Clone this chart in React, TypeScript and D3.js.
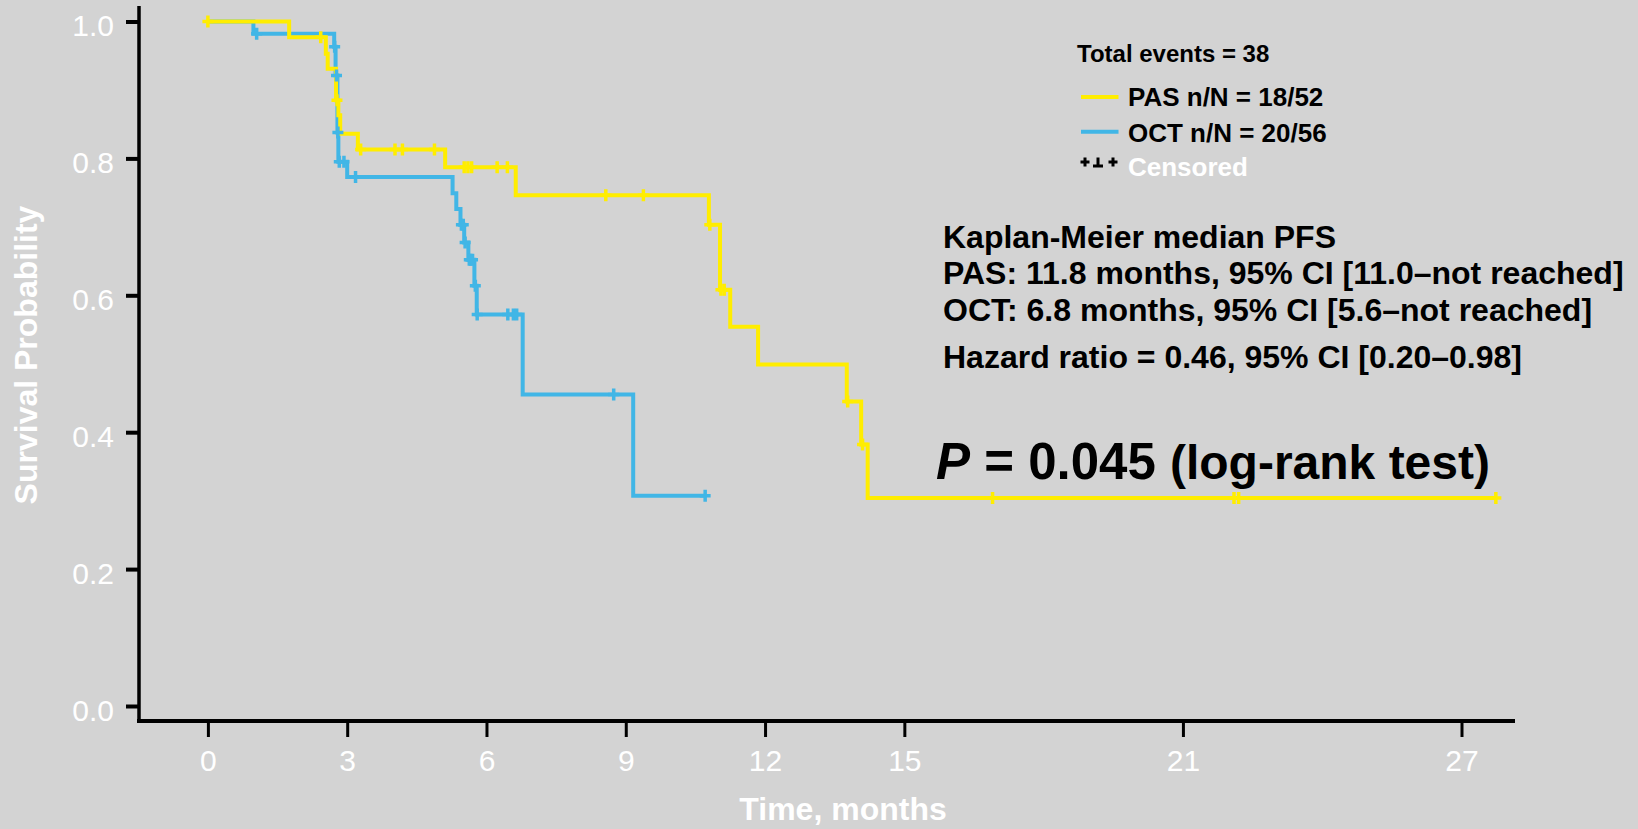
import * as d3 from "d3";
import { useEffect, useRef } from "react";

// axis ticks
const xTicks = [0, 3, 6, 9, 12, 15, 21, 27];
const yTicks = [0, 0.2, 0.4, 0.6, 0.8, 1.0];

// PAS arm: event times (months) and survival after each step
const pasTimes = [0, 1.75, 2.54, 2.58, 2.76, 2.81, 2.85, 3.23, 5.11, 6.63, 10.79, 11.03, 11.25, 11.85, 13.76, 14.07, 14.21];
const pasSurv = [1.0, 0.977, 0.953, 0.931, 0.885, 0.863, 0.836, 0.813, 0.787, 0.746, 0.703, 0.608, 0.554, 0.499, 0.445, 0.382, 0.304];
const pasCensor = [0, 2.43, 2.78, 3.29, 4.03, 4.19, 4.88, 5.52, 5.6, 5.68, 6.23, 6.45, 8.57, 9.38, 10.81, 11.05, 11.12, 13.78, 14.1, 16.9, 22.1, 22.2, 27.74];
const pasEnd = 27.74;

// OCT arm
const octTimes = [0, 0.98, 2.72, 2.75, 2.79, 2.81, 3.0, 5.27, 5.35, 5.44, 5.52, 5.61, 5.74, 5.79, 6.78, 9.16];
const octSurv = [1.0, 0.982, 0.963, 0.921, 0.838, 0.795, 0.773, 0.749, 0.726, 0.703, 0.677, 0.652, 0.614, 0.572, 0.455, 0.307];
const octCensor = [1.05, 2.73, 2.77, 2.8, 2.83, 2.93, 3.18, 5.46, 5.5, 5.54, 5.63, 5.66, 5.7, 5.76, 5.8, 6.46, 6.58, 6.65, 8.74, 10.71];
const octEnd = 10.71;

const W = 1638;
const H = 829;
const BG = "#d3d3d3";
const YELLOW = "#ffed00";
const BLUE = "#41b6e6";
const FONT = "'Liberation Sans', Arial, Helvetica, sans-serif";

const App = () => {
    const plotRef = useRef<SVGGElement>(null);

    useEffect(() => {
        const g = d3.select(plotRef.current);
        g.selectAll("*").remove();

        const x = d3.scaleLinear().domain([0, 27]).range([207.9, 1461.5]);
        const y = d3.scaleLinear().domain([0, 1]).range([706, 21.5]);

        // y axis
        const gy = g.append("g")
            .attr("transform", "translate(139,0)")
            .call(d3.axisLeft(y).tickValues(yTicks).tickSize(13).tickPadding(12).tickFormat(d3.format(".1f")));
        gy.select(".domain").remove();
        gy.attr("font-size", 30).attr("font-family", FONT);
        gy.selectAll(".tick line").attr("stroke", "#000").attr("stroke-width", 4);
        gy.selectAll(".tick text").attr("fill", "#fff").attr("dy", "0.48em");

        g.append("line")
            .attr("x1", 139).attr("x2", 139).attr("y1", 6).attr("y2", 723)
            .attr("stroke", "#000").attr("stroke-width", 3.5);

        // x axis
        const gx = g.append("g")
            .attr("transform", "translate(0,721)")
            .call(d3.axisBottom(x).tickValues(xTicks).tickSize(16).tickPadding(13));
        gx.select(".domain").remove();
        gx.attr("font-size", 30).attr("font-family", FONT);
        gx.selectAll(".tick line").attr("stroke", "#000").attr("stroke-width", 3);
        gx.selectAll(".tick text").attr("fill", "#fff");

        g.append("line")
            .attr("x1", 137).attr("x2", 1515).attr("y1", 721).attr("y2", 721)
            .attr("stroke", "#000").attr("stroke-width", 4);

        const line = d3.line<[number, number]>()
            .x((d) => x(d[0]))
            .y((d) => y(d[1]))
            .curve(d3.curveStepAfter);

        const stepAt = (times: number[], surv: number[], t: number) => {
            let v = surv[0];
            for (let i = 0; i < times.length; i++) if (times[i] <= t) v = surv[i];
            return v;
        };

        const arms = [
            { times: octTimes, surv: octSurv, censor: octCensor, end: octEnd, color: BLUE },
            { times: pasTimes, surv: pasSurv, censor: pasCensor, end: pasEnd, color: YELLOW },
        ];

        arms.forEach((a) => {
            const pts: [number, number][] = a.times.map((t, i) => [t, a.surv[i]]);
            pts.push([a.end, a.surv[a.surv.length - 1]]);
            g.append("path")
                .attr("d", line(pts))
                .attr("fill", "none")
                .attr("stroke", a.color)
                .attr("stroke-width", 4);
        });

        arms.forEach((a) => {
            g.append("g")
                .selectAll("path")
                .data(a.censor)
                .join("path")
                .attr("transform", (t) => `translate(${x(t)},${y(stepAt(a.times, a.surv, t))})`)
                .attr("d", "M-5.5,0H5.5M0,-6V6")
                .attr("stroke", a.color)
                .attr("stroke-width", 3.5);
        });
    }, []);

    return (
        <div style={{ position: "absolute", left: 0, top: 0 }}>
            <svg width={W} height={H} style={{ display: "block" }} fontFamily={FONT}>
                <rect width={W} height={H} fill={BG} />
                <g ref={plotRef} />

                <text x={843} y={820} textAnchor="middle" fontSize={32} fontWeight="bold" fill="#fff">Time, months</text>
                <text transform="translate(36.5,355) rotate(-90)" textAnchor="middle" fontSize={32} fontWeight="bold" fill="#fff">Survival Probability</text>

                <text x={1077} y={62} fontSize={24} fontWeight="bold" fill="#000">Total events = 38</text>
                <line x1={1081} x2={1118.5} y1={97} y2={97} stroke={YELLOW} strokeWidth={4} />
                <text x={1128} y={106} fontSize={26} fontWeight="bold" fill="#000">PAS n/N = 18/52</text>
                <line x1={1081} x2={1118.5} y1={131.7} y2={131.7} stroke={BLUE} strokeWidth={4} />
                <text x={1128} y={142} fontSize={26} fontWeight="bold" fill="#000">OCT n/N = 20/56</text>
                <path d="M1080.5,162H1089.5M1085,157.5V166.5M1093,166H1103M1098,157.5V166M1108.5,162H1117.5M1113,157.5V166.5" stroke="#000" strokeWidth={3} fill="none" />
                <text x={1128} y={176} fontSize={26} fontWeight="bold" fill="#fff">Censored</text>

                <g fontSize={32} fontWeight="bold" fill="#000">
                    <text x={943} y={248}>Kaplan-Meier median PFS</text>
                    <text x={943} y={284}>PAS: 11.8 months, 95% CI [11.0–not reached]</text>
                    <text x={943} y={321}>OCT: 6.8 months, 95% CI [5.6–not reached]</text>
                    <text x={943} y={368}>Hazard ratio = 0.46, 95% CI [0.20–0.98]</text>
                </g>
                <text x={936} y={479} fontSize={51} fontWeight="bold" fill="#000">
                    <tspan fontStyle="italic">P</tspan> = 0.045 <tspan fontSize={48}>(log-rank test)</tspan>
                </text>
            </svg>
        </div>
    );
};

export default App;
